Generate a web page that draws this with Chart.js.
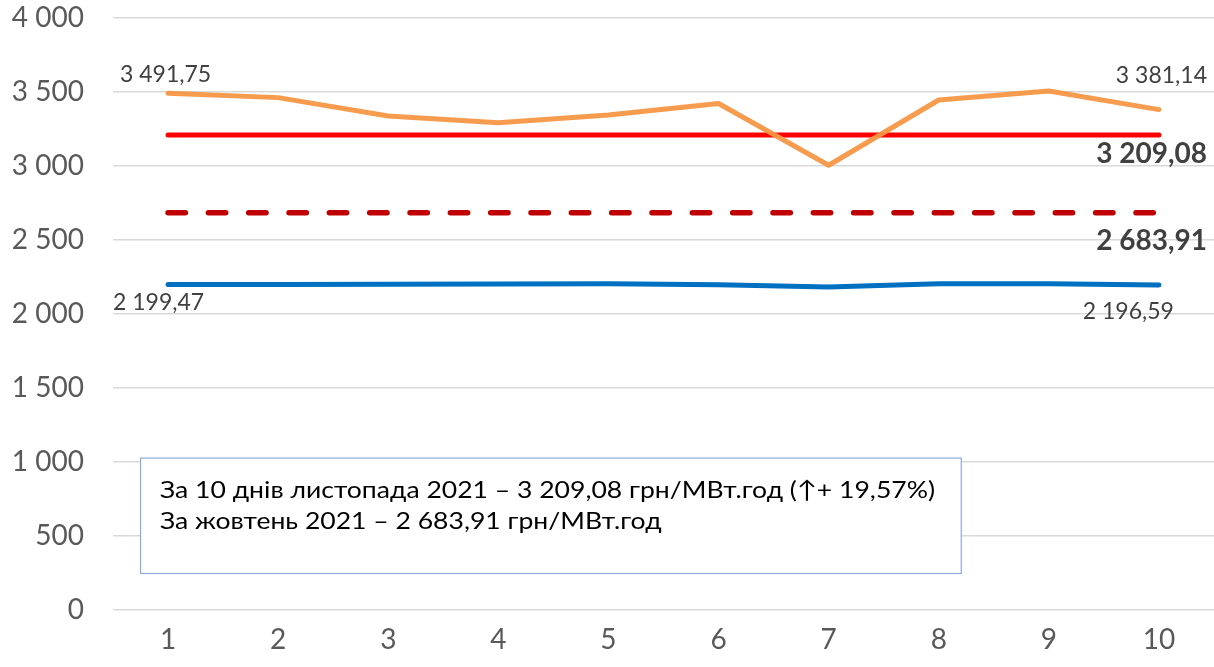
<!DOCTYPE html>
<html>
<head>
<meta charset="utf-8">
<script src="https://cdn.jsdelivr.net/npm/chart.js@4/dist/chart.umd.min.js"></script>
<style>
  html, body { margin: 0; padding: 0; background: #fff; }
  #wrap { width: 1214px; height: 667px; position: relative; }
</style>
</head>
<body>
<div id="wrap"><canvas id="c" width="1214" height="667"></canvas></div>
<script>
const categories = ['1','2','3','4','5','6','7','8','9','10'];
const novemberDaily = [3491.75, 3462, 3338, 3293, 3345, 3422, 3005, 3446, 3507, 3381.14];
const novemberAvg = [3209.08, 3209.08, 3209.08, 3209.08, 3209.08, 3209.08, 3209.08, 3209.08, 3209.08, 3209.08];
const octoberAvg = [2683.91, 2683.91, 2683.91, 2683.91, 2683.91, 2683.91, 2683.91, 2683.91, 2683.91, 2683.91];
const blueSeries = [2199.47, 2200, 2201, 2202, 2205, 2198, 2182, 2204, 2204, 2196.59];
const yTicks = [0, 500, 1000, 1500, 2000, 2500, 3000, 3500, 4000];
const boxLines = [
  'За 10 днів листопада 2021 – 3 209,08 грн/МВт.год (↑+ 19,57%)',
  'За жовтень 2021 – 2 683,91 грн/МВт.год'
];

const FONT = 'Lato, "Noto Sans", sans-serif';

function fmt(v) {
  const parts = v.toFixed(2).split('.');
  const int = parts[0].replace(/\B(?=(\d{3})+(?!\d))/g, ' ');
  return int + ',' + parts[1];
}

const labelPlugin = {
  id: 'labels',
  afterDatasetsDraw(chart) {
    const ctx = chart.ctx;
    const x = chart.scales.x, y = chart.scales.y;
    const ca = chart.chartArea;
    const last = categories.length - 1;
    ctx.save();
    ctx.fillStyle = '#404040';
    ctx.textBaseline = 'middle';
    ctx.font = '23px ' + FONT;
    ctx.textAlign = 'left';
    ctx.fillText(fmt(novemberDaily[0]), x.getPixelForValue(0) - 48, y.getPixelForValue(novemberDaily[0]) - 19);
    ctx.textAlign = 'right';
    ctx.fillText(fmt(novemberDaily[last]), ca.right - 7, y.getPixelForValue(novemberDaily[last]) - 34);
    ctx.textAlign = 'left';
    ctx.fillText(fmt(blueSeries[0]), x.getPixelForValue(0) - 55, y.getPixelForValue(blueSeries[0]) + 18);
    ctx.textAlign = 'right';
    ctx.fillText(fmt(blueSeries[last]), x.getPixelForValue(last) + 15, y.getPixelForValue(blueSeries[last]) + 27);
    ctx.font = 'bold 28px ' + FONT;
    ctx.textAlign = 'right';
    ctx.fillText(fmt(novemberAvg[last]), ca.right - 7, y.getPixelForValue(novemberAvg[last]) + 19);
    ctx.fillText(fmt(octoberAvg[last]), ca.right - 7, y.getPixelForValue(octoberAvg[last]) + 28);
    const bx = x.getPixelForValue(0) - 28;
    const bxr = x.getPixelForValue(7) + 22;
    const by = y.getPixelForValue(1030);
    const byb = y.getPixelForValue(250);
    ctx.fillStyle = '#ffffff';
    ctx.fillRect(bx, by, bxr - bx, byb - by);
    ctx.strokeStyle = '#8EAADB';
    ctx.lineWidth = 1.2;
    ctx.strokeRect(bx + 0.5, by + 0.5, bxr - bx, byb - by);
    ctx.fillStyle = '#000000';
    ctx.font = '24px ' + FONT;
    ctx.textAlign = 'left';
    const w0 = ctx.measureText(boxLines[0]).width;
    const sx = 775 / w0;
    ctx.save();
    ctx.translate(bx + 20, 0);
    ctx.scale(sx, 1);
    ctx.fillText(boxLines[0], 0, by + 33);
    ctx.fillText(boxLines[1], 0, by + 64);
    ctx.restore();
    ctx.restore();
  }
};

new Chart(document.getElementById('c'), {
  type: 'line',
  data: {
    labels: categories,
    datasets: [
      { data: blueSeries, borderColor: '#0070C0', borderWidth: 5, pointRadius: 0, borderCapStyle: 'round', tension: 0, order: 4 },
      { data: octoberAvg, borderColor: '#C00000', borderWidth: 5.5, pointRadius: 0, borderDash: [17.33, 23], borderCapStyle: 'round', order: 3 },
      { data: novemberAvg, borderColor: '#FF0000', borderWidth: 5, pointRadius: 0, borderCapStyle: 'round', order: 2 },
      { data: novemberDaily, borderColor: 'rgba(247,150,70,0.95)', borderWidth: 5, pointRadius: 0, borderCapStyle: 'round', borderJoinStyle: 'round', order: 1 }
    ]
  },
  options: {
    responsive: false,
    animation: false,
    devicePixelRatio: 1,
    layout: { padding: { top: 18, right: 0, left: 0, bottom: 0 } },
    plugins: { legend: { display: false }, tooltip: { enabled: false } },
    scales: {
      x: {
        offset: true,
        grid: { display: false, drawTicks: false },
        border: { display: false },
        ticks: { color: '#595959', font: { family: FONT, size: 28 }, padding: 13, maxRotation: 0 },
        afterFit(s) { s.height = 57; }
      },
      y: {
        min: 0, max: 4000,
        afterBuildTicks(s) { s.ticks = yTicks.map(v => ({ value: v })); },
        grid: { color: '#D9D9D9', lineWidth: 1.5, drawTicks: false },
        border: { display: false },
        ticks: {
          color: '#595959', font: { family: FONT, size: 28 }, padding: 29,
          callback: v => String(v).replace(/\B(?=(\d{3})+(?!\d))/g, ' ')
        },
        afterFit(s) { s.width = 113; s.paddingTop = 0; s.paddingBottom = 0; }
      }
    }
  },
  plugins: [labelPlugin]
});
</script>
</body>
</html>
